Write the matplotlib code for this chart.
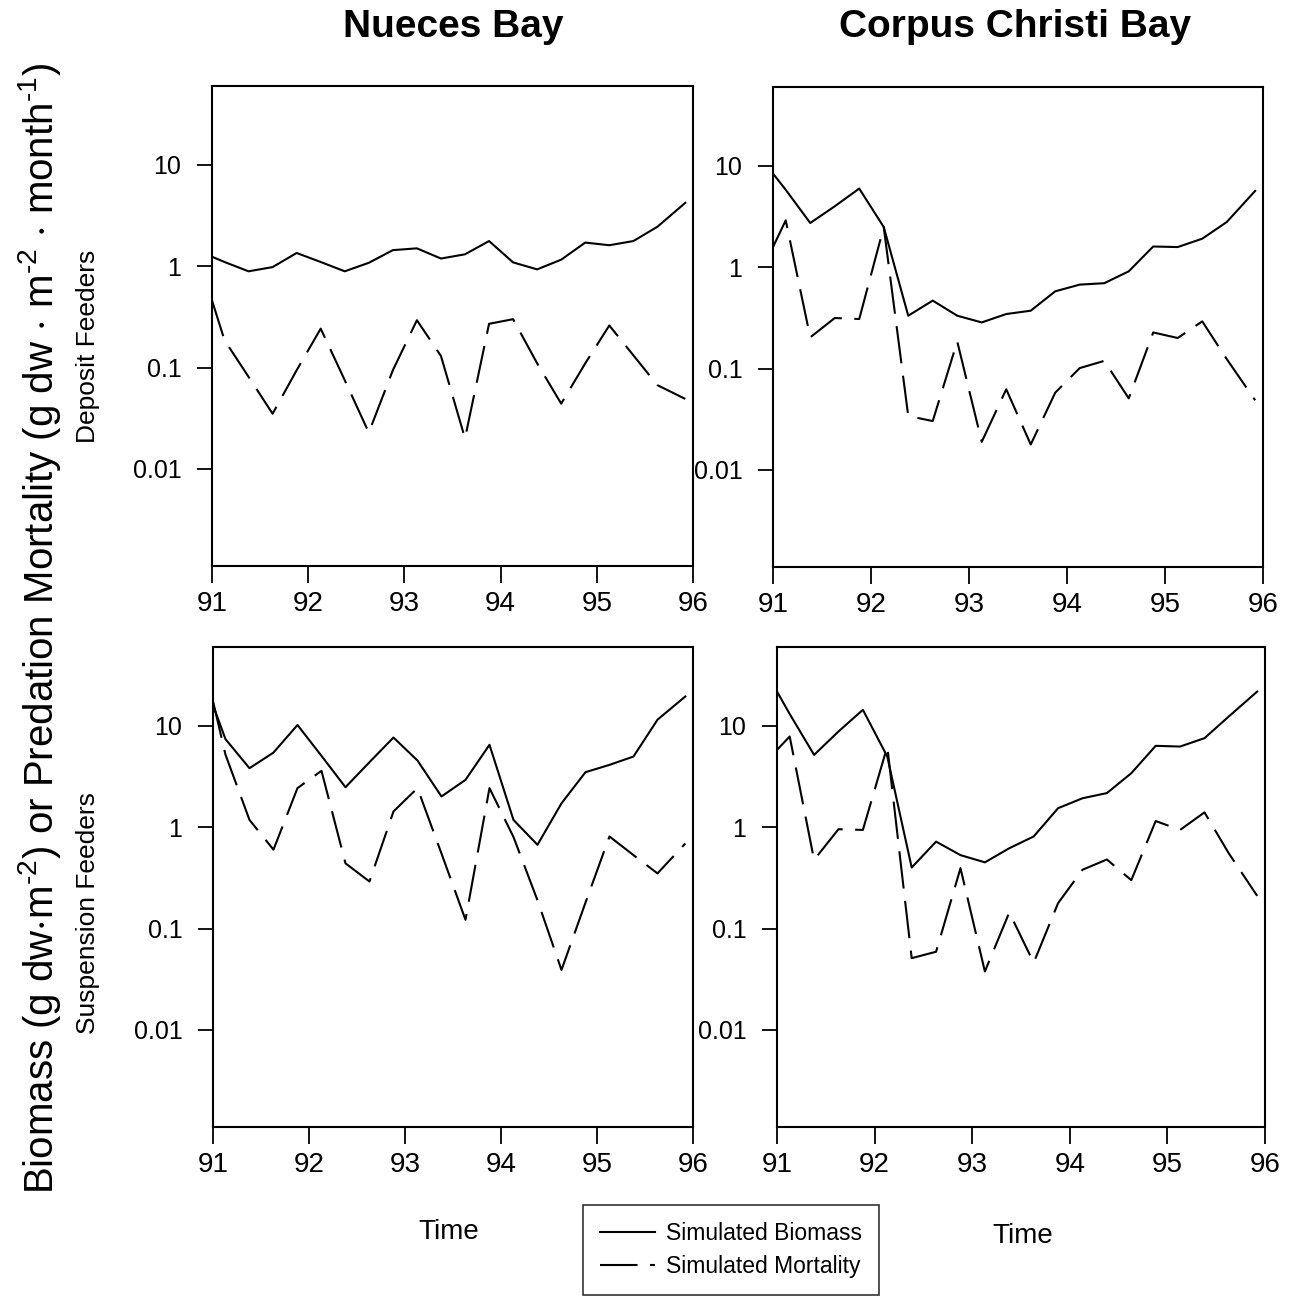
import matplotlib
matplotlib.use("Agg")
import matplotlib.pyplot as plt
from matplotlib.ticker import FixedLocator, NullLocator

plt.rcParams['font.family'] = ['Liberation Sans', 'DejaVu Sans']
plt.rcParams['mathtext.fontset'] = 'custom'
plt.rcParams['mathtext.rm'] = 'Liberation Sans'
plt.rcParams['mathtext.it'] = 'Liberation Sans'
plt.rcParams['mathtext.default'] = 'regular'
NARROW = ['Liberation Sans Narrow', 'Liberation Sans', 'DejaVu Sans']

# sampling times (year, 19xx)
years = [91.0, 91.13, 91.38, 91.63, 91.88, 92.13, 92.38, 92.63, 92.88, 93.13, 93.38,
         93.63, 93.88, 94.13, 94.38, 94.63, 94.88, 95.13, 95.38, 95.63, 95.92]

# Deposit feeders
nueces_dep_biomass = [1.24, 1.10, 0.89, 0.98, 1.35, 1.10, 0.89, 1.08, 1.44, 1.50, 1.19,
                      1.31, 1.77, 1.09, 0.93, 1.16, 1.71, 1.61, 1.77, 2.45, 4.22]
nueces_dep_mortality = [0.46, 0.186, 0.081, 0.035, 0.094, 0.242, 0.075, 0.0228, 0.094, 0.293, 0.13,
                        0.020, 0.27, 0.30, 0.11, 0.044, 0.11, 0.26, 0.132, 0.067, 0.049]
corpus_dep_biomass = [8.4, 5.8, 2.73, 3.99, 5.97, 2.49, 0.332, 0.468, 0.332, 0.285, 0.345,
                      0.372, 0.578, 0.673, 0.695, 0.91, 1.60, 1.58, 1.91, 2.79, 5.66]
corpus_dep_mortality = [1.58, 2.90, 0.203, 0.315, 0.308, 2.49, 0.034, 0.0303, 0.185, 0.0189, 0.0624,
                        0.0178, 0.0578, 0.101, 0.119, 0.0508, 0.227, 0.20, 0.292, 0.124, 0.0486]

# Suspension feeders
nueces_sus_biomass = [16.0, 7.4, 3.82, 5.45, 10.2, 5.06, 2.48, 4.38, 7.67, 4.55, 2.01,
                      2.93, 6.5, 1.18, 0.67, 1.72, 3.49, 4.12, 4.98, 11.5, 19.5]
nueces_sus_mortality = [17.5, 5.2, 1.18, 0.60, 2.43, 3.6, 0.44, 0.291, 1.43, 2.43, 0.55,
                        0.122, 2.43, 0.8, 0.19, 0.039, 0.18, 0.81, 0.53, 0.35, 0.69]
corpus_sus_biomass = [21.8, 13.1, 5.17, 8.8, 14.4, 4.98, 0.40, 0.72, 0.53, 0.45, 0.62,
                      0.81, 1.54, 1.93, 2.17, 3.41, 6.35, 6.25, 7.56, 12.4, 21.8]
corpus_sus_mortality = [5.8, 7.85, 0.476, 0.955, 0.94, 6.25, 0.051, 0.059, 0.394, 0.0377, 0.144,
                        0.046, 0.178, 0.38, 0.48, 0.30, 1.15, 0.94, 1.40, 0.55, 0.21]

year_ticks = [91, 92, 93, 94, 95, 96]
y_ticks = [0.01, 0.1, 1, 10]
y_tick_labels = ['0.01', '0.1', '1', '10']

DASH = (0, (18, 6))
LW = 1.5


def draw_panel(ax, biomass, mortality):
    ax.plot(years, biomass, color='black', lw=LW, label='Simulated Biomass')
    ax.plot(years, mortality, color='black', lw=LW, linestyle=DASH, label='Simulated Mortality')
    ax.set_yscale('log')
    ax.set_ylim(0.0011, 60)
    ax.set_xlim(91, 96)
    ax.xaxis.set_major_locator(FixedLocator(year_ticks))
    ax.set_xticklabels([str(t) for t in year_ticks])
    ax.yaxis.set_major_locator(FixedLocator(y_ticks))
    ax.yaxis.set_minor_locator(NullLocator())
    ax.set_yticklabels(y_tick_labels)
    ax.tick_params(axis='x', direction='out', length=12, width=1.3, pad=6, labelsize=20)
    ax.tick_params(axis='y', direction='out', length=11, width=1.3, pad=11, labelsize=18)
    for s in ax.spines.values():
        s.set_linewidth(1.5)


fig = plt.figure(figsize=(13.01, 12.99), dpi=100)
W, H = 1301, 1299


def add_axes(x0, x1, y0, y1):
    return fig.add_axes([x0 / W, 1 - y1 / H, (x1 - x0) / W, (y1 - y0) / H])


ax_tl = add_axes(212, 693, 86, 566)
ax_tr = add_axes(773, 1263, 87, 567)
ax_bl = add_axes(213, 693, 647, 1127)
ax_br = add_axes(777, 1265, 647, 1127)

draw_panel(ax_tl, nueces_dep_biomass, nueces_dep_mortality)
draw_panel(ax_tr, corpus_dep_biomass, corpus_dep_mortality)
draw_panel(ax_bl, nueces_sus_biomass, nueces_sus_mortality)
draw_panel(ax_br, corpus_sus_biomass, corpus_sus_mortality)

# column titles
fig.text(453 / W, 1 - 27 / H, 'Nueces Bay', ha='center', va='center', fontsize=28, fontweight='bold')
fig.text(1015 / W, 1 - 27 / H, 'Corpus Christi Bay', ha='center', va='center', fontsize=28,
         fontweight='bold')

# row labels and the shared y label
fig.text(88 / W, 1 - 346 / H, 'Deposit Feeders', rotation=90, ha='center', va='center',
         fontsize=19, family=NARROW)
fig.text(88 / W, 1 - 913 / H, 'Suspension Feeders', rotation=90, ha='center', va='center',
         fontsize=19, family=NARROW)
ylabel = (r'Biomass (g dw$\cdot$m$^{\text{-2}}$) or Predation Mortality '
          r'(g dw $\cdot$ m$^{\text{-2}}$ $\cdot$ month$^{\text{-1}}$)')
fig.text(40 / W, 1 - 628 / H, ylabel, rotation=90, ha='center', va='center',
         fontsize=29, family=NARROW)

# x labels
fig.text(449 / W, 1 - 1232 / H, 'Time', ha='center', va='center', fontsize=20)
fig.text(1023 / W, 1 - 1236 / H, 'Time', ha='center', va='center', fontsize=20)

handles, labels = ax_tl.get_legend_handles_labels()
leg = fig.legend(handles, labels, loc='center', bbox_to_anchor=(731 / W, 1 - 1250 / H),
                 frameon=True, fancybox=False, edgecolor='black',
                 handlelength=2.4, handletextpad=0.45, borderpad=0.75, labelspacing=0.4,
                 borderaxespad=0, prop={'family': NARROW, 'size': 16.5})
leg.get_frame().set_linewidth(1.2)

fig.savefig('out.png', dpi=100, facecolor='white')
